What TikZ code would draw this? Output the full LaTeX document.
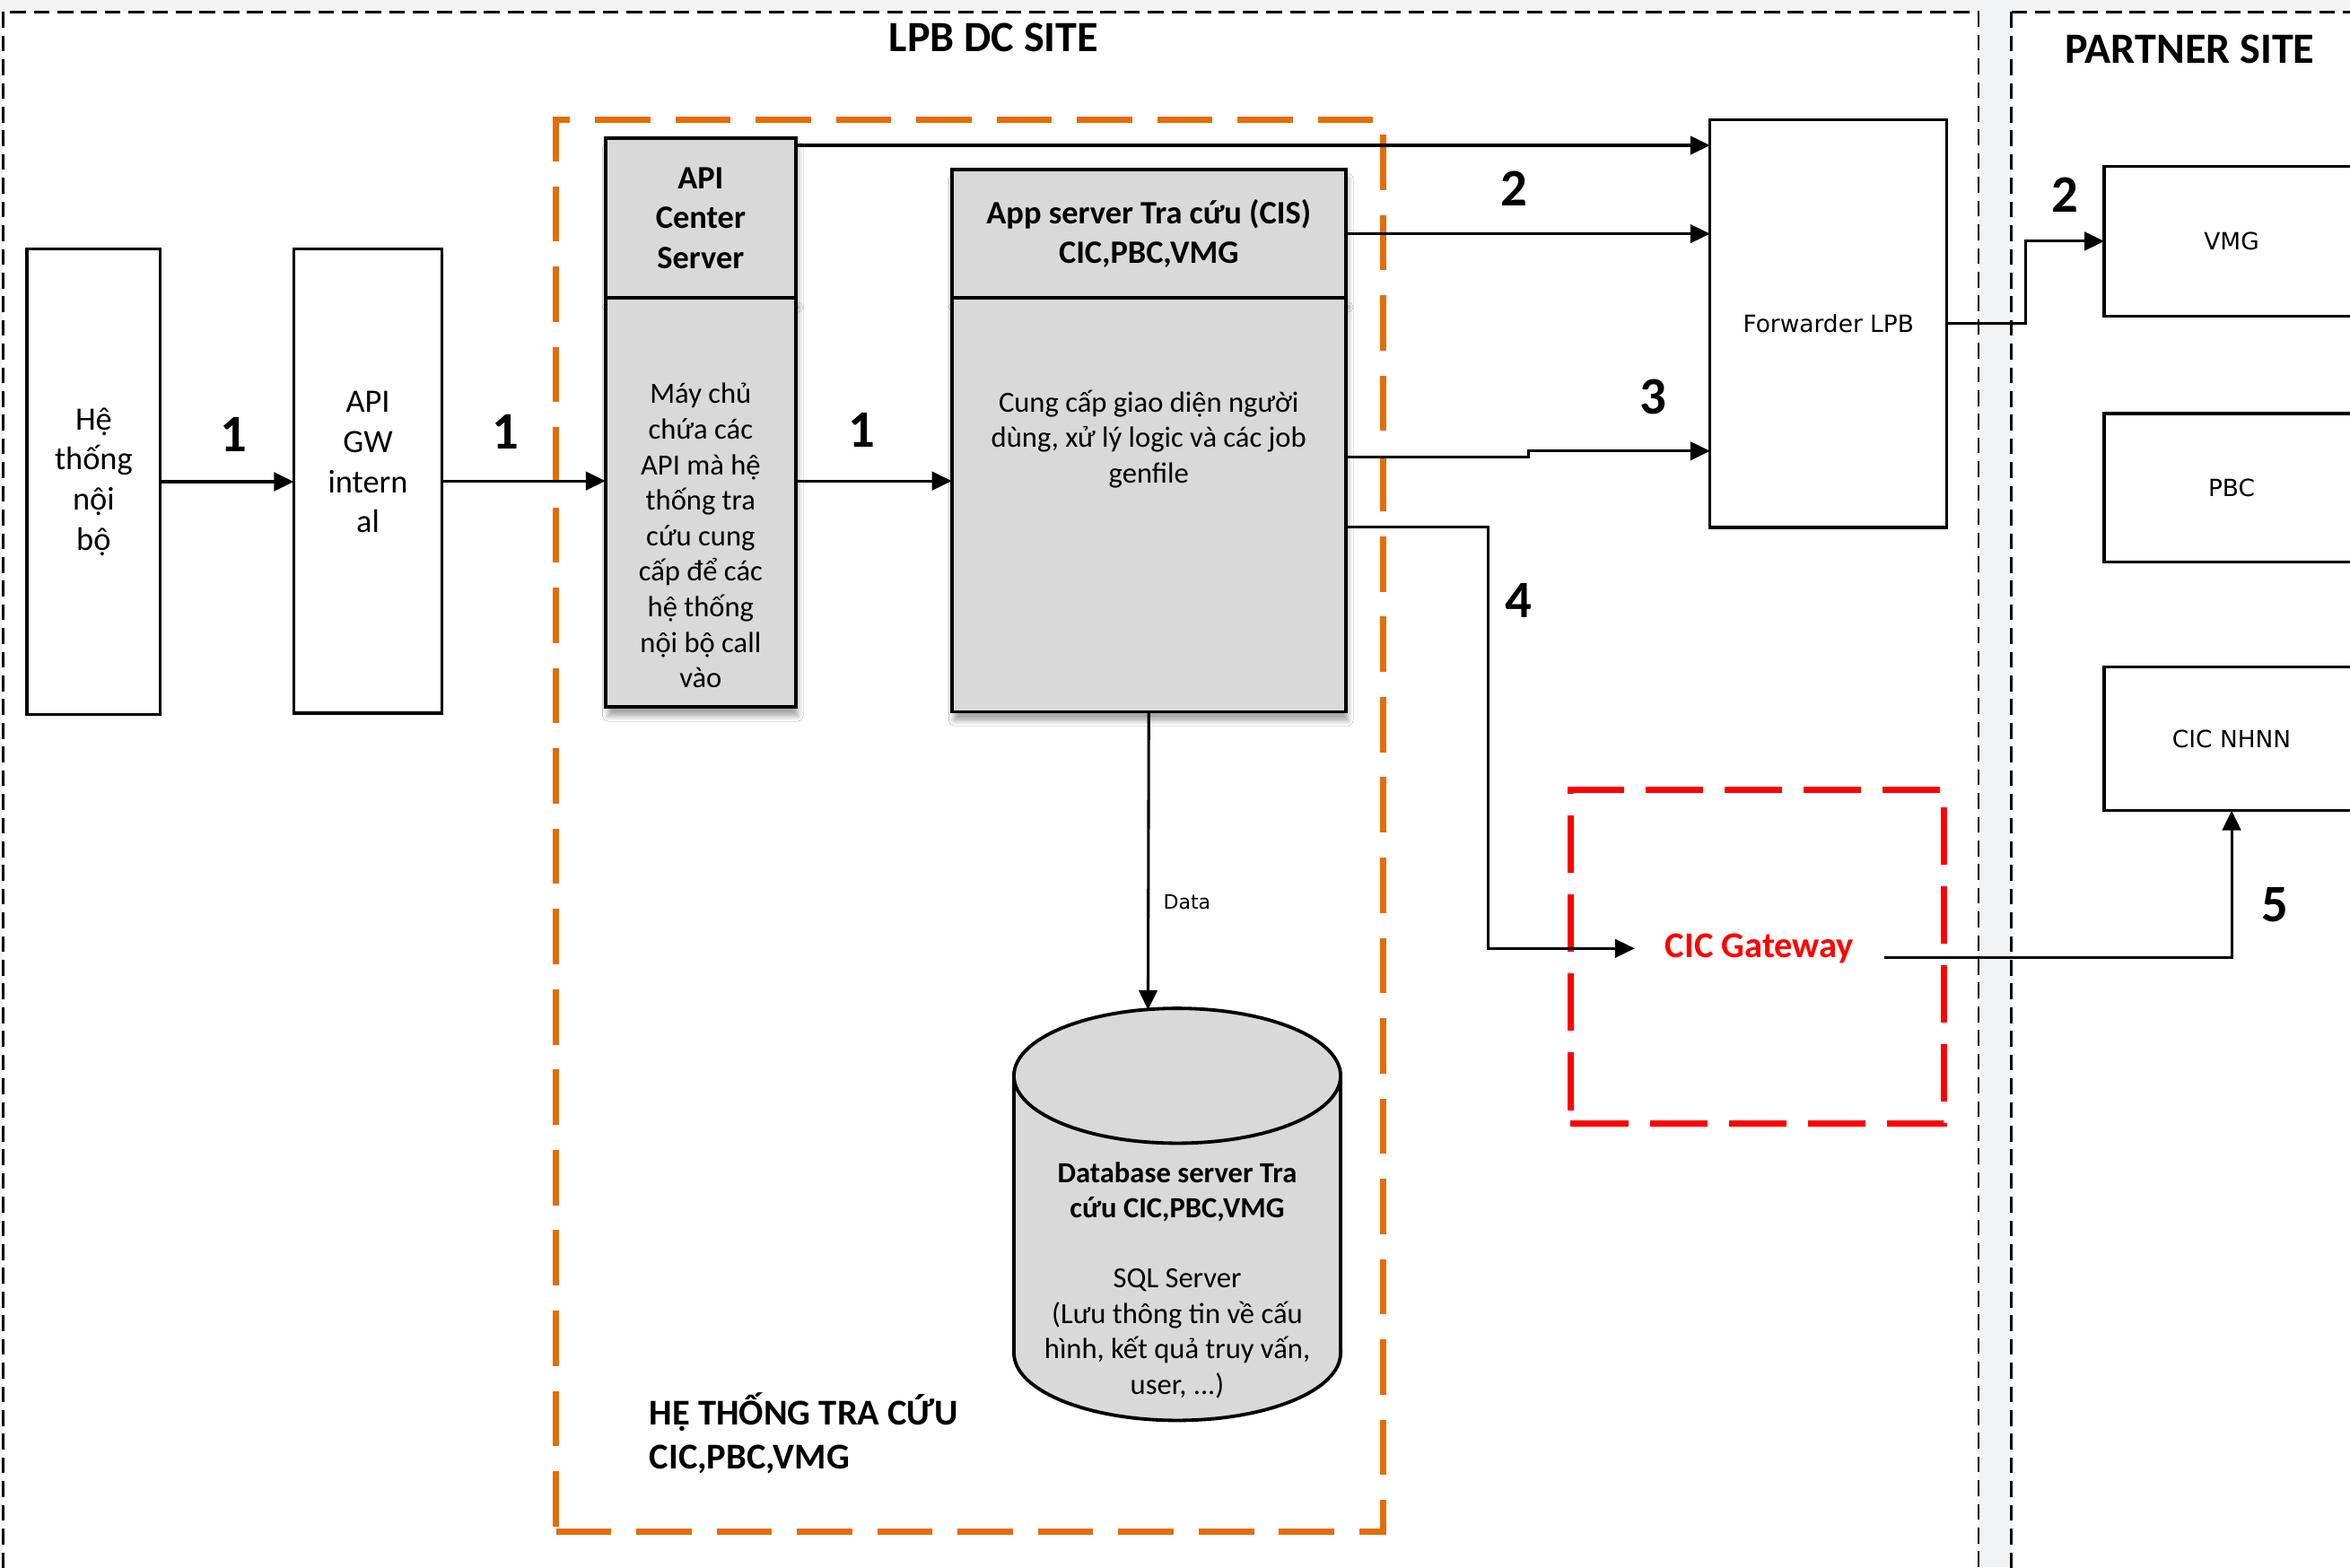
\documentclass[tikz,border=0pt]{standalone}
\usepackage{fontspec}
\setmainfont{Carlito}
\newfontfamily\lgfont{DejaVu Sans}
\usetikzlibrary{positioning,arrows.meta,calc,shadows.blur}

\definecolor{bggray}{HTML}{F2F3F5}
\definecolor{boxgray}{HTML}{D9D9D9}
\definecolor{grporange}{HTML}{E46C0A}

\newcommand\txtbig{\fontsize{12.4pt}{15.2pt}\selectfont}
\newcommand\txtmid{\fontsize{11.1pt}{13.5pt}\selectfont}
\newcommand\txtgrp{\fontsize{13.8pt}{16.5pt}\selectfont}
\newcommand\txttitle{\fontsize{16.4pt}{19pt}\selectfont}
\newcommand\txtsm{\fontsize{9pt}{11pt}\selectfont}
\newcommand\txtnum{\fontsize{20pt}{24pt}\selectfont}

\tikzset{
  site/.style={draw,dash pattern=on 6pt off 3pt,line width=0.85pt,fill=white},
  wbox/.style={draw,line width=1.1pt,fill=white,outer sep=0pt},
  gbox/.style={draw,line width=1.3pt,fill=boxgray,outer sep=0pt,
    blur shadow={shadow xshift=0.3mm,shadow yshift=-1.2mm,shadow opacity=35,shadow blur steps=6}},
  grpbox/.style={draw=grporange,line width=2.4pt,dash pattern=on 21pt off 9.5pt},
  gwbox/.style={draw=red,line width=2.4pt,dash pattern=on 22pt off 8pt},
  num/.style={font=\bfseries\txtnum,inner sep=0pt},
  arr/.style={line width=1.05pt,-{Triangle[length=7.5pt,width=7pt]}}
}

\begin{document}
\begin{tikzpicture}[x=0.2mm,y=-0.2mm]
\useasboundingbox (0,0) rectangle (1568,1046);
\fill[bggray] (0,0) rectangle (1568,1046);

% sites
\draw[site] (2,8) rectangle (1320,1070);
\draw[site] (1342,8) rectangle (1590,1070);
\node[font=\bfseries\txttitle] (lpbtitle) at (663,25) {LPB DC SITE};
\node[font=\bfseries\txttitle] (ptitle) at (1461,33) {PARTNER SITE};

% group
\node[grpbox,minimum width=110.4mm,minimum height=188.4mm] (grp) at (647,551) {};
\node[font=\bfseries\txtgrp,align=left,anchor=west,inner sep=0pt] (grplbl) at (433,956.5) {HỆ THỐNG TRA CỨU\\CIC,PBC,VMG};

\node[wbox,minimum width=17.8mm,minimum height=62.2mm,font=\txtbig,align=center] (hts) at (62.5,321.5) {Hệ\\thống\\nội\\bộ};
\node[wbox,minimum width=19.8mm,minimum height=62mm] (apigw) at (245.5,321) {};
\node[font=\txtbig,align=center] (gwtxt) at (245.5,308.5) {API\\GW\\intern\\al};

\node[gbox,minimum width=25.4mm,minimum height=21.4mm,font=\bfseries\txtbig,align=center] (apih) at (467.5,145.5) {API\\Center\\Server};
\node[gbox,minimum width=25.4mm,minimum height=54.6mm,below=0pt of apih] (apib) {};
\node[font=\txtmid,align=center] (apitxt) at (467.5,357.5) {Máy chủ\\chứa các\\API mà hệ\\thống tra\\cứu cung\\cấp để các\\hệ thống\\nội bộ call\\vào};

\node[gbox,minimum width=52.6mm,minimum height=17.2mm,font=\bfseries\txtbig,align=center] (apph) at (766.5,156) {App server Tra cứu (CIS)\\CIC,PBC,VMG};
\node[gbox,minimum width=52.6mm,minimum height=55.2mm,below=0pt of apph] (appb) {};
\node[font=\txtmid,align=center] (apptxt) at (766.5,293) {Cung cấp giao diện người\\dùng, xử lý logic và các job\\genfile};

% database
\draw[line width=1.3pt,fill=boxgray] (676.5,718) -- (676.5,903)
  arc[start angle=180,end angle=360,x radius=21.8mm,y radius=9mm] -- (894.5,718)
  arc[start angle=0,end angle=180,x radius=21.8mm,y radius=9mm] -- cycle;
\draw[line width=1.3pt] (676.5,718) arc[start angle=180,end angle=360,x radius=21.8mm,y radius=9mm];
\coordinate (dbtop) at (766,674);
\node[font=\txtmid,align=center] (db) at (785.5,854.5) {\textbf{Database server Tra}\\\textbf{cứu CIC,PBC,VMG}\\[13pt]SQL Server\\(Lưu thông tin về cấu\\hình, kết quả truy vấn,\\user, ...)};

\node[wbox,minimum width=31.6mm,minimum height=54.4mm,font=\lgfont\txtsm] (fwd) at (1220,216) {Forwarder LPB};
\foreach \nm/\y/\h/\t in {vmg/161/20/VMG,pbc/325.5/19.8/PBC,cicn/493/19.2/CIC NHNN}
  \node[wbox,minimum width=34mm,minimum height=\h mm,font=\lgfont\txtsm] (\nm) at (1489,\y) {\t};

\node[gwbox,minimum width=49.8mm,minimum height=44.6mm] (gwbox) at (1172.5,638.5) {};
\node[font=\bfseries\txtgrp,text=red,inner xsep=4mm] (cicg) at (1174,633) {CIC Gateway};

% connectors
\draw[arr] (hts.east) -- (hts.east -| apigw.west);
\draw[arr] (apigw.east) -- (apigw.east -| apib.west);
\draw[arr] (apib.east |- apigw.east) -- (apigw.east -| appb.west);
\draw[arr] ($(apih.north east)+(0,5)$) coordinate (q1) -- (q1 -| fwd.west);
\draw[arr] (apph.east) -- (apph.east -| fwd.west);
\draw[arr] (appb.east |- 0,305) -- ++(122,0) |- (fwd.west |- 0,301);
\draw[arr] (fwd.east) -| ($(fwd.east)!0.5!(vmg.west)$) |- (vmg.west);
\draw[arr] (appb.east |- 0,352) -- ++(95,0) |- (cicg.west);
\draw[arr] (cicg.east |- 0,639) -| (cicn.south);
\draw[arr] (appb.south) -- (dbtop);
\node[font=\lgfont\fontsize{7.5pt}{9pt}\selectfont] (datalbl) at (792,602) {Data};

\foreach \nm/\x/\y/\t in {n1/156/290/1,n2/337/288/1,n3/575/287/1,n4/1010/126/2,n5/1103/265/3,n6/1378/130/2,n7/1013/401/4,n8/1518/604/5}
  \node[num] (\nm) at (\x,\y) {\t};
\end{tikzpicture}
\end{document}
